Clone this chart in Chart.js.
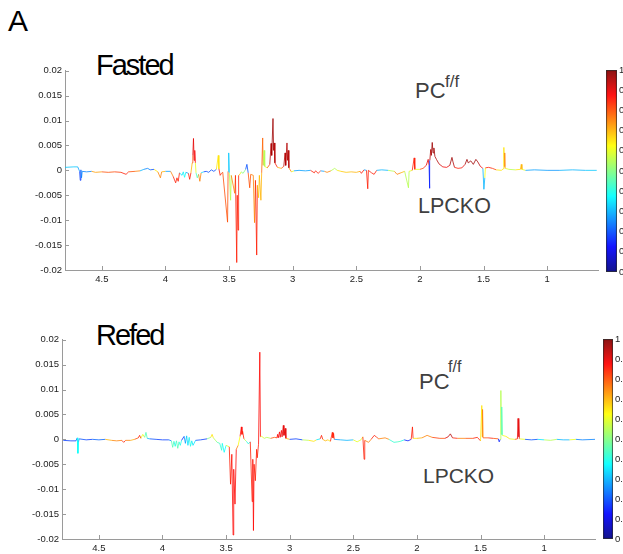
<!DOCTYPE html>
<html><head><meta charset="utf-8">
<script src="https://cdn.jsdelivr.net/npm/chart.js@4"></script>
<style>
html,body{margin:0;padding:0;background:#fff;}
body{width:623px;height:554px;position:relative;overflow:hidden;font-family:"Liberation Sans",Arial,sans-serif;}
canvas{position:absolute;}
.t{position:absolute;white-space:nowrap;line-height:1;}
</style></head><body>
<div class="t" style="left:8px;top:6px;font-size:30px;color:#000">A</div>
<div class="t" style="left:96px;top:51px;font-size:29px;color:#000;letter-spacing:-2px">Fasted</div>
<div class="t" style="left:96px;top:321px;font-size:29px;color:#000;letter-spacing:-2px">Refed</div>
<div class="t" style="left:415px;top:80px;font-size:22px;color:#404040">PC</div>
<div class="t" style="left:445px;top:73px;font-size:17px;color:#404040">f/f</div>
<div class="t" style="left:418px;top:196px;font-size:21.5px;color:#404040">LPCKO</div>
<div class="t" style="left:419px;top:371px;font-size:22px;color:#404040">PC</div>
<div class="t" style="left:448px;top:359px;font-size:16px;color:#404040">f/f</div>
<div class="t" style="left:423px;top:465px;font-size:21px;color:#404040">LPCKO</div>
<canvas id="fasted" width="600" height="230" style="left:0;top:62px"></canvas>
<canvas id="fastedBar" width="23" height="220" style="left:600px;top:62px"></canvas>
<canvas id="refed" width="597" height="230" style="left:0;top:331px"></canvas>
<canvas id="refedBar" width="26" height="220" style="left:597px;top:331px"></canvas>
<script>
// ---- data (ppm, loading, correlation) ----
const xTicks = [4.5, 4, 3.5, 3, 2.5, 2, 1.5, 1];
const yTicks = [-0.02, -0.015, -0.01, -0.005, 0, 0.005, 0.01, 0.015, 0.02];
const cbTicks = [0, 0.1, 0.2, 0.3, 0.4, 0.5, 0.6, 0.7, 0.8, 0.9, 1];

const fastedPpm = [4.79,4.72,4.69,4.675,4.67,4.665,4.66,4.655,4.62,4.58,
4.55,4.5,4.45,4.4,4.35,4.31,4.29,4.24,4.2,4.17,
4.14,4.12,4.09,4.06,4.04,4.03,4.0,3.96,3.94,3.92,
3.91,3.9,3.89,3.87,3.86,3.85,3.84,3.82,3.81,3.8,
3.79,3.785,3.78,3.775,3.77,3.765,3.76,3.75,3.74,3.73,
3.72,3.7,3.68,3.66,3.64,3.62,3.6,3.585,3.58,3.57,
3.56,3.55,3.512,3.508,3.503,3.498,3.488,3.483,3.456,3.45,
3.44,3.436,3.43,3.425,3.415,3.405,3.39,3.37,3.36,3.35,
3.338,3.33,3.31,3.3,3.293,3.283,3.278,3.268,3.262,3.25,
3.244,3.236,3.232,3.225,3.22,3.2,3.18,3.17,3.165,3.155,
3.15,3.145,3.14,3.12,3.09,3.07,3.06,3.055,3.045,3.04,
3.035,3.03,3.01,2.99,2.95,2.9,2.86,2.83,2.82,2.8,
2.78,2.75,2.73,2.7,2.67,2.65,2.62,2.58,2.54,2.5,
2.47,2.46,2.44,2.42,2.41,2.405,2.38,2.36,2.34,2.3,
2.25,2.2,2.18,2.15,2.12,2.09,2.085,2.06,2.045,2.04,2.0,
1.975,1.95,1.935,1.928,1.925,1.922,1.915,1.91,1.903,1.897,
1.89,1.882,1.87,1.85,1.82,1.79,1.765,1.748,1.74,1.728,
1.7,1.67,1.645,1.63,1.62,1.6,1.58,1.56,1.545,1.525,
1.505,1.497,1.49,1.485,1.46,1.43,1.4,1.36,1.345,1.34,
1.337,1.333,1.33,1.3,1.25,1.21,1.203,1.198,1.17,1.1,
1.0,0.9,0.8,0.7,0.61];
const fastedLoading = [0.0006,0.0007,0.0007,-0.0002,-0.002,0.0001,-0.0015,-0.0002,-0.0003,-0.0002,
-0.0004,-0.0003,-0.0004,-0.0003,-0.0004,-0.0008,-0.0003,-0.0002,-0.0001,0.0002,
0.0004,0.0001,0.0002,-0.0003,-0.0015,-0.0003,-0.0002,-0.0002,-0.0012,-0.0025,
-0.0015,-0.0022,-0.0005,-0.001,-0.0003,-0.0014,-0.0004,-0.0006,-0.0018,-0.0005,
0.0015,0.003,0.0064,0.002,0.004,0.0015,-0.0005,-0.0015,-0.0008,-0.0022,
-0.0005,-0.0003,-0.0002,-0.0004,0.0001,-0.0002,0.0002,0.003,0.0003,-0.001,
-0.0006,-0.0004,-0.0104,-0.0002,0.0035,-0.0005,-0.006,-0.001,-0.0046,-0.001,
-0.0185,-0.005,-0.012,-0.001,-0.0008,-0.0003,-0.0006,0.0002,0.0012,-0.0005,
-0.0035,-0.0008,-0.001,-0.0105,-0.002,-0.017,-0.003,-0.0055,-0.001,-0.006,
-0.0005,0.0065,0.001,0.004,0.0008,0.0005,0.0012,0.0054,0.003,0.0104,
0.004,0.0055,0.0015,0.0006,0.0004,0.0008,0.0035,0.001,0.0055,0.002,
0.004,0.0005,-0.0003,-0.0001,0,-0.0001,0,-0.0005,-0.0001,-0.0006,
-0.0001,-0.0002,-0.0004,-0.0001,0.0004,0,-0.0002,-0.0004,-0.0003,-0.0004,
-0.0002,-0.0006,0.0001,0,-0.0037,0,-0.0005,-0.0008,0,0.0001,
0,-0.0002,-0.0008,-0.0005,-0.0002,-0.0035,-0.0002,0,0.0025,0.0002,0.0002,
0.0004,0.001,0.0022,0.001,-0.0036,0.002,0.0042,0.003,0.0056,0.0035,
0.0045,0.0028,0.0022,0.0013,0.0007,0.0006,0.001,0.0026,0.0017,0.0006,
0.0004,0.0005,0.0012,0.0022,0.0015,0.0019,0.0012,0.0022,0.0017,0.0008,
0.0004,-0.0038,-0.0015,0.0005,0.0006,0.0004,0.0001,0,0.0003,0.0046,
0.0008,0.0035,0.0004,0.0002,0.0001,0.0002,0.0012,0.0002,0,0.0001,
0,0,0.0001,0,0];
const fastedCorr = [0.32,0.32,0.28,0.2,0.18,0.2,0.25,0.2,0.25,0.55,
0.72,0.78,0.8,0.75,0.82,0.85,0.8,0.75,0.62,0.3,
0.25,0.3,0.2,0.65,0.75,0.7,0.28,0.3,0.75,0.85,
0.8,0.85,0.6,0.35,0.28,0.38,0.2,0.28,0.85,0.7,
0.7,0.8,0.9,0.75,0.88,0.6,0.5,0.45,0.6,0.75,
0.35,0.18,0.15,0.2,0.15,0.2,0.15,0.65,0.5,0.85,
0.8,0.7,0.8,0.5,0.32,0.4,0.55,0.65,0.75,0.7,
0.85,0.8,0.85,0.7,0.6,0.25,0.5,0.2,0.2,0.55,
0.8,0.7,0.75,0.75,0.7,0.85,0.7,0.68,0.6,0.7,
0.5,0.78,0.55,0.55,0.6,0.62,0.8,0.95,0.95,0.97,
0.95,0.95,0.85,0.7,0.65,0.8,0.95,0.9,0.95,0.9,
0.95,0.75,0.6,0.28,0.25,0.28,0.25,0.85,0.5,0.85,
0.35,0.28,0.75,0.5,0.55,0.35,0.65,0.68,0.62,0.7,
0.55,0.85,0.28,0.28,0.85,0.5,0.85,0.85,0.28,0.3,
0.28,0.55,0.75,0.7,0.6,0.55,0.6,0.55,0.85,0.6,0.55,
0.8,0.85,0.9,0.5,0.15,0.6,0.95,0.95,0.97,0.95,
0.97,0.95,0.95,0.92,0.88,0.85,0.9,0.97,0.95,0.85,
0.82,0.85,0.9,0.97,0.95,0.97,0.95,0.97,0.95,0.88,
0.6,0.3,0.62,0.85,0.85,0.82,0.65,0.62,0.65,0.65,
0.7,0.75,0.6,0.55,0.55,0.65,0.7,0.6,0.45,0.28,
0.27,0.28,0.3,0.32,0.3];

const refedPpm = [4.78,4.72,4.68,4.67,4.665,4.66,4.655,4.6,4.55,4.5,
4.45,4.4,4.36,4.32,4.305,4.29,4.25,4.22,4.19,4.18,
4.17,4.155,4.14,4.13,4.12,4.1,4.05,4.0,3.95,3.93,
3.92,3.91,3.9,3.89,3.88,3.87,3.86,3.85,3.83,3.82,
3.81,3.8,3.79,3.78,3.77,3.76,3.74,3.7,3.65,3.62,
3.61,3.6,3.58,3.57,3.55,3.535,3.53,3.515,3.5,3.475,
3.465,3.455,3.445,3.44,3.43,3.42,3.405,3.39,3.38,3.375,
3.37,3.36,3.34,3.325,3.31,3.295,3.29,3.285,3.28,3.27,
3.26,3.255,3.245,3.235,3.23,3.22,3.2,3.18,3.15,3.12,
3.1,3.095,3.09,3.08,3.075,3.065,3.06,3.05,3.045,3.035,
3.03,3.0,2.95,2.9,2.85,2.81,2.79,2.76,2.75,2.74,
2.72,2.7,2.68,2.665,2.66,2.655,2.65,2.6,2.55,2.5,
2.47,2.44,2.425,2.415,2.41,2.38,2.36,2.335,2.32,2.3,
2.25,2.22,2.18,2.15,2.13,2.1,2.07,2.045,2.035,2.03,
2.0,1.96,1.92,1.88,1.82,1.78,1.755,1.737,1.72,1.68,
1.62,1.56,1.525,1.5,1.49,1.487,1.484,1.48,1.44,1.4,
1.36,1.353,1.345,1.34,1.337,1.333,1.328,1.3,1.27,1.23,
1.21,1.205,1.2,1.198,1.195,1.15,1.1,1.05,1.0,0.95,
0.9,0.85,0.8,0.75,0.7,0.6];
const refedLoading = [-0.0002,-0.0003,-0.0003,0.0003,-0.0028,-0.0005,0.0001,-0.0001,0,-0.0001,
0,-0.0002,-0.0003,-0.0002,-0.0006,-0.0002,-0.0002,0,0.0003,0.0008,
0.0002,0.001,0.0004,0.0014,0.0002,0.0001,0,-0.0001,-0.0001,-0.0003,
-0.0016,-0.0004,-0.0014,-0.0003,-0.0018,-0.0005,-0.0012,-0.0002,0.0006,-0.0008,
0.0007,-0.0012,0.0004,-0.0014,-0.0003,-0.0012,-0.0002,-0.0001,0.0001,0.0004,
0.001,0.0003,-0.0003,-0.0006,-0.0008,-0.0022,-0.0008,-0.0026,-0.0012,-0.0015,
-0.009,-0.003,-0.0192,-0.006,-0.013,-0.002,-0.0012,0.0006,0.0025,0.001,
0.0016,0.0001,-0.0004,-0.0009,-0.0005,-0.0125,-0.004,-0.0183,-0.005,-0.0083,
-0.002,-0.0037,-0.001,0.0175,0.0005,0.0006,0.0002,0.0004,0.0002,0.0004,
0.0003,0.001,0.0003,0.0015,0.0004,0.0018,0.0005,0.0028,0.0008,0.0022,
0.0002,0,0.0001,-0.0001,-0.0002,-0.0004,-0.0001,0.0001,0.0008,0,
-0.0003,-0.0001,-0.0004,0.0014,0.0003,0.0012,0,-0.0001,-0.0002,-0.0001,
-0.0005,-0.0001,0.0005,-0.004,-0.0002,-0.0006,0,0.0008,0.0005,0.0001,
0.0003,0,-0.0006,-0.0005,-0.0004,-0.0001,-0.0003,0,0.0025,0.0002,
0.0002,0.0003,0.0008,0.0004,0.0002,0.0002,0.0005,0.0011,0.0003,0.0002,
0.0002,0.0002,0.0004,-0.0003,0.0068,0.0005,0.006,0.0003,0.0003,0.0002,
0.0001,-0.0005,0,0.0098,0.001,0.0065,0.0008,0.0006,0.0001,0,
0.0001,0.0042,0.0005,0.004,0.0001,0,-0.0001,0,-0.0001,-0.0002,
0,-0.0001,-0.0001,0,-0.0001,0];
const refedCorr = [0.2,0.18,0.2,0.2,0.38,0.3,0.2,0.18,0.2,0.22,
0.3,0.7,0.75,0.8,0.85,0.75,0.7,0.65,0.8,0.85,
0.65,0.6,0.5,0.45,0.3,0.2,0.15,0.18,0.2,0.25,
0.45,0.3,0.4,0.25,0.45,0.3,0.4,0.22,0.15,0.28,
0.2,0.35,0.2,0.4,0.22,0.35,0.2,0.18,0.15,0.5,
0.65,0.55,0.4,0.5,0.45,0.42,0.4,0.38,0.5,0.6,
0.85,0.8,0.87,0.85,0.87,0.75,0.62,0.8,0.87,0.85,
0.85,0.6,0.55,0.4,0.6,0.85,0.8,0.87,0.8,0.85,
0.7,0.85,0.6,0.87,0.65,0.6,0.5,0.55,0.7,0.8,
0.85,0.88,0.85,0.88,0.85,0.88,0.85,0.9,0.85,0.9,
0.7,0.2,0.18,0.25,0.55,0.65,0.35,0.6,0.85,0.7,
0.7,0.62,0.65,0.85,0.8,0.85,0.6,0.28,0.3,0.22,
0.6,0.55,0.6,0.85,0.7,0.75,0.65,0.85,0.82,0.7,
0.75,0.5,0.42,0.45,0.4,0.3,0.15,0.6,0.85,0.65,
0.62,0.7,0.75,0.82,0.8,0.75,0.9,0.95,0.85,0.75,
0.8,0.75,0.85,0.35,0.65,0.7,0.75,0.8,0.85,0.8,
0.7,0.15,0.3,0.55,0.35,0.45,0.62,0.65,0.6,0.55,
0.8,0.9,0.88,0.9,0.6,0.28,0.2,0.25,0.35,0.55,
0.28,0.3,0.6,0.28,0.25,0.28];

// ---- colour map (jet) ----
function clamp(v){return Math.max(0,Math.min(1,v));}
function jet(v, a){
  const r = clamp(1.5 - Math.abs(4*v - 3)), g = clamp(1.5 - Math.abs(4*v - 2)), b = clamp(1.5 - Math.abs(4*v - 1));
  return `rgba(${Math.round(r*255)},${Math.round(g*255)},${Math.round(b*255)},${a===undefined?1:a})`;
}

const insideTicks = {
  id: 'insideTicks',
  afterDraw(chart){
    const {ctx, scales:{x, y}} = chart;
    ctx.save(); ctx.strokeStyle = '#9a9a9a'; ctx.lineWidth = 1; ctx.beginPath();
    y.ticks.forEach(t => { const py = Math.round(y.getPixelForValue(t.value)) + 0.5; ctx.moveTo(y.right, py); ctx.lineTo(y.right + 4, py); });
    x.ticks.forEach(t => { const px = Math.round(x.getPixelForValue(t.value)) + 0.5; ctx.moveTo(px, x.top); ctx.lineTo(px, x.top - 4); });
    ctx.stroke(); ctx.restore();
  }
};

function spectrum(id, ppm, load, corr, yWidth){
  return new Chart(document.getElementById(id), {
    type: 'line',
    data: { datasets: [{
      data: ppm.map((p, i) => ({x: p, y: load[i]})),
      borderWidth: 1, pointRadius: 0, tension: 0, borderColor: '#888',
      segment: { borderColor: c => {
        const i = c.p0DataIndex, j = c.p1DataIndex;
        const k = Math.abs(load[i]) >= Math.abs(load[j]) ? i : j;
        return jet(corr[k], 0.78);
      }}
    }]},
    options: {
      responsive: false, animation: false, events: [],
      layout: { padding: {top: 8, right: 2, left: 0, bottom: 0} },
      plugins: { legend: {display: false}, tooltip: {enabled: false} },
      scales: {
        x: { type: 'linear', reverse: true, min: 0.6, max: 4.79,
          grid: {display: false, drawTicks: false}, border: {display: true, color: '#9a9a9a'},
          ticks: {font: {size: 9.5, family: 'Liberation Sans'}, color: '#222', padding: 4, autoSkip: false, maxRotation: 0, callback: v => String(v)},
          afterBuildTicks: s => { s.ticks = xTicks.map(v => ({value: v})); },
          afterFit: s => { s.height = 22; } },
        y: { min: -0.02, max: 0.02,
          grid: {display: false, drawTicks: false}, border: {display: true, color: '#9a9a9a'},
          ticks: {font: {size: 9.5, family: 'Liberation Sans'}, color: '#222', padding: 3, autoSkip: false, callback: v => String(v)},
          afterBuildTicks: s => { s.ticks = yTicks.map(v => ({value: v})); },
          afterFit: s => { s.width = yWidth; } }
      }
    },
    plugins: [insideTicks]
  });
}

function colorbar(id, yWidth, padL, padB){
  return new Chart(document.getElementById(id), {
    type: 'bar',
    data: { labels: [''], datasets: [{ data: [1],
      backgroundColor: c => {
        const a = c.chart.chartArea; if (!a) return '#fff';
        const g = c.chart.ctx.createLinearGradient(0, a.bottom, 0, a.top);
        [0, 0.125, 0.375, 0.625, 0.875, 1].forEach(s => g.addColorStop(s, jet(s, 0.92)));
        return g;
      },
      borderColor: '#333', borderWidth: 1, borderSkipped: false, barPercentage: 1, categoryPercentage: 1 }]},
    options: {
      responsive: false, animation: false, events: [],
      layout: { padding: {left: padL, top: 8, bottom: padB, right: 0} },
      plugins: { legend: {display: false}, tooltip: {enabled: false} },
      scales: {
        x: { display: false },
        y: { position: 'right', min: 0, max: 1,
          grid: {display: false, drawTicks: false}, border: {display: false},
          ticks: {font: {size: 9.5, family: 'Liberation Sans'}, color: '#222', padding: 2, callback: v => String(v)},
          afterBuildTicks: s => { s.ticks = cbTicks.map(v => ({value: v})); },
          afterFit: s => { s.width = yWidth; } }
      }
    }
  });
}

spectrum('fasted', fastedPpm, fastedLoading, fastedCorr, 65);
spectrum('refed', refedPpm, refedLoading, refedCorr, 62);
colorbar('fastedBar', 6, 6, 10);
colorbar('refedBar', 10, 6, 12);
</script>
</body></html>
